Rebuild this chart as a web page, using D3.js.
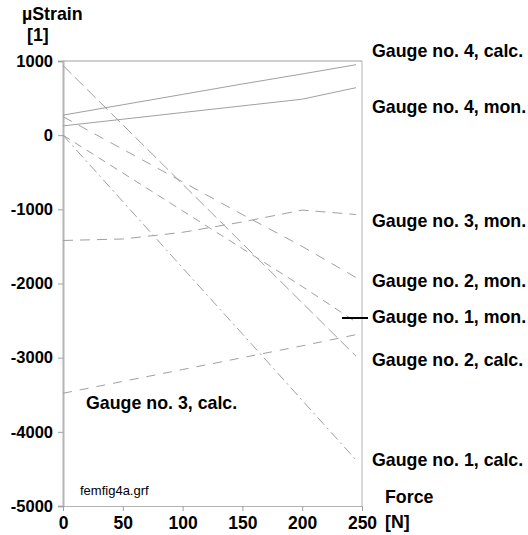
<!DOCTYPE html>
<html>
<head>
<meta charset="utf-8">
<script src="https://cdn.jsdelivr.net/npm/d3@7"></script>
<style>
  html, body { margin: 0; padding: 0; background: #fff; }
  svg { display: block; font-family: "Liberation Sans", Arial, sans-serif; }
</style>
</head>
<body>
<div id="chart"></div>
<script>
// force steps [N]
const force = [0, 50, 100, 150, 200, 245];

// strain series [µStrain]
const g4calc = [270, 410, 550, 690, 825, 950];
const g4mon  = [125, 215, 305, 395, 485, 640];
const g3mon  = [-1420, -1400, -1310, -1170, -1010, -1070];
const g3calc = [-3480, -3320, -3160, -3000, -2840, -2690];
const g2mon  = [250, -190, -630, -1070, -1500, -1920];
const g2calc = [940, 140, -660, -1460, -2260, -2980];
const g1mon  = [0, -510, -1020, -1530, -2040, -2520];
const g1calc = [0, -895, -1790, -2680, -3575, -4380];

const xTicks = [0, 50, 100, 150, 200, 250];
const yTicks = [1000, 0, -1000, -2000, -3000, -4000, -5000];

// label name, label position and dash per series
const series = [
  { name: 'Gauge no. 4, calc.', vals: g4calc, dash: null,        lx: 372, ly: 57 },
  { name: 'Gauge no. 4, mon.',  vals: g4mon,  dash: null,        lx: 372, ly: 113 },
  { name: 'Gauge no. 3, mon.',  vals: g3mon,  dash: '10,7',      lx: 372, ly: 227 },
  { name: 'Gauge no. 2, mon.',  vals: g2mon,  dash: '10,8',      lx: 372, ly: 287 },
  { name: 'Gauge no. 1, mon.',  vals: g1mon,  dash: '8,6',       lx: 372, ly: 323 },
  { name: 'Gauge no. 2, calc.', vals: g2calc, dash: '12,5',      lx: 372, ly: 366 },
  { name: 'Gauge no. 1, calc.', vals: g1calc, dash: '10,4,2,4',  lx: 372, ly: 466 },
  { name: 'Gauge no. 3, calc.', vals: g3calc, dash: '9,8',       lx: 86,  ly: 409 }
];

const W = 528, H = 535;
const svg = d3.select('#chart').append('svg').attr('width', W).attr('height', H);

const x = d3.scaleLinear().domain([0, 250]).range([63, 362]);
const y = d3.scaleLinear().domain([-5000, 1000]).range([506, 61]);

const axisColor = '#b4b4b4';
const lineColor = '#a0a0a0';

// frame: top and right border
svg.append('line').attr('x1', x(0)).attr('x2', x(250)).attr('y1', y(1000)).attr('y2', y(1000))
  .attr('stroke', lineColor).attr('stroke-width', 1);
svg.append('line').attr('x1', x(250)).attr('x2', x(250)).attr('y1', y(1000)).attr('y2', y(-5000))
  .attr('stroke', axisColor).attr('stroke-width', 1);

// y axis
const yAxis = svg.append('g').attr('transform', `translate(${x(0)},0)`)
  .call(d3.axisLeft(y).tickValues(yTicks).tickSize(5).tickPadding(5).tickFormat(d => String(d)));
yAxis.select('.domain').attr('stroke', axisColor).attr('stroke-width', 2);
yAxis.selectAll('.tick line').attr('stroke', lineColor);
yAxis.selectAll('.tick text').attr('fill', '#000').attr('font-size', 16.5).attr('font-weight', 'bold')
  .attr('font-family', '"Liberation Sans", Arial, sans-serif');

// x axis
const xAxis = svg.append('g').attr('transform', `translate(0,${y(-5000)})`)
  .call(d3.axisBottom(x).tickValues(xTicks).tickSize(5).tickPadding(6).tickFormat(d => String(d)));
xAxis.select('.domain').attr('stroke', axisColor).attr('stroke-width', 1);
xAxis.selectAll('.tick line').attr('stroke', lineColor);
xAxis.selectAll('.tick text').attr('fill', '#000').attr('font-size', 17.5).attr('font-weight', 'bold')
  .attr('font-family', '"Liberation Sans", Arial, sans-serif');

// series lines
const line = d3.line().x((d, i) => x(force[i])).y(d => y(d));
svg.append('g').selectAll('path').data(series).enter().append('path')
  .attr('d', d => line(d.vals))
  .attr('fill', 'none')
  .attr('stroke', lineColor)
  .attr('stroke-width', 1)
  .attr('stroke-dasharray', d => d.dash);

// series labels
svg.append('g').selectAll('text').data(series).enter().append('text')
  .attr('x', d => d.lx).attr('y', d => d.ly)
  .attr('font-size', 17.8).attr('font-weight', 'bold').attr('fill', '#000')
  .text(d => d.name);

// short marker next to gauge 1 mon label
svg.append('line').attr('x1', 342).attr('x2', 368).attr('y1', 318).attr('y2', 318)
  .attr('stroke', '#000').attr('stroke-width', 2);

// axis titles
const bold = (t, tx, ty) => svg.append('text').attr('x', tx).attr('y', ty)
  .attr('font-size', 17.8).attr('font-weight', 'bold').attr('fill', '#000').text(t);
bold('µStrain', 22, 20);
bold('[1]', 27, 41);
bold('Force', 385, 503);
bold('[N]', 385, 528);

svg.append('text').attr('x', 80).attr('y', 495).attr('font-size', 13).attr('fill', '#000')
  .text('femfig4a.grf');
</script>
</body>
</html>
